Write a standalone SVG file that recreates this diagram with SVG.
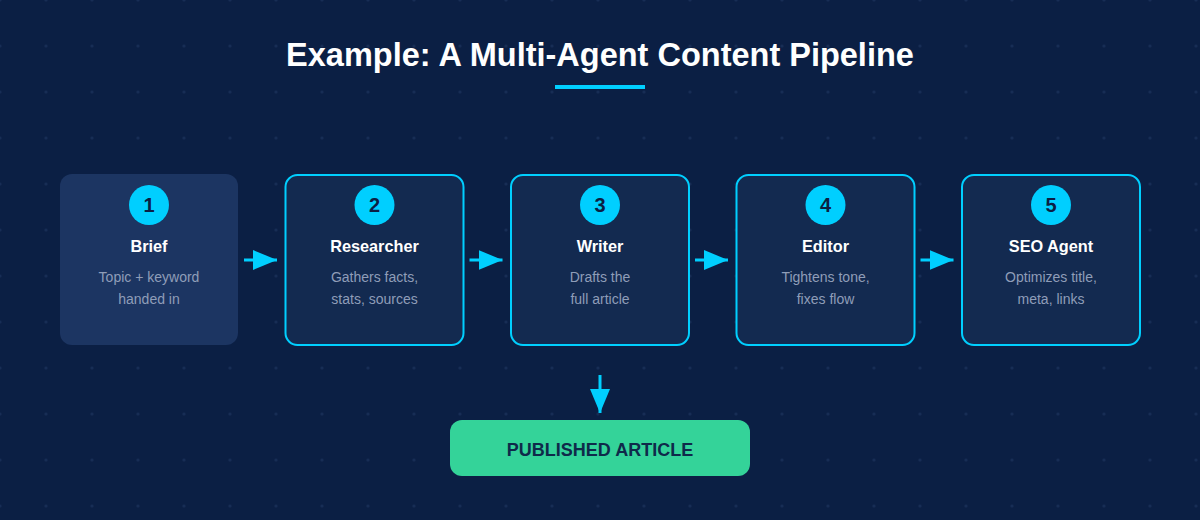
<svg xmlns="http://www.w3.org/2000/svg" width="1200" height="520" viewBox="0 0 1200 520">
<defs>
<pattern id="dots" x="0" y="0" width="46" height="46" patternUnits="userSpaceOnUse">
<circle cx="0" cy="0" r="1.6" fill="#172d55"/>
<circle cx="46" cy="0" r="1.6" fill="#172d55"/>
<circle cx="0" cy="46" r="1.6" fill="#172d55"/>
<circle cx="46" cy="46" r="1.6" fill="#172d55"/>
</pattern>
<marker id="arr" viewBox="0 0 24 20" refX="24" refY="10" markerWidth="24" markerHeight="20" markerUnits="userSpaceOnUse" orient="auto">
<path d="M0,0 L24,10 L0,20 Z" fill="#00cfff"/>
</marker>
<style>
.box{fill:#132a50;stroke:#00cfff;stroke-width:2}
.box1{fill:#1c3562}
.badge{fill:#00cfff}
.num{font-family:"Liberation Sans",Arial,sans-serif;font-weight:bold;font-size:20px;fill:#0b1f44;text-anchor:middle}
.name{font-family:"Liberation Sans",Arial,sans-serif;font-weight:bold;font-size:16.3px;fill:#ffffff;text-anchor:middle}
.desc{font-family:"Liberation Sans",Arial,sans-serif;font-size:14px;fill:#8f9db8;text-anchor:middle}
.conn{stroke:#00cfff;stroke-width:3;fill:none}
</style>
</defs>
<rect width="1200" height="520" fill="#0b1f44"/>
<rect width="1200" height="520" fill="url(#dots)"/>
<g id="title">
<text x="600" y="66" font-family="Liberation Sans, Arial, sans-serif" font-weight="bold" font-size="32.5" fill="#ffffff" text-anchor="middle">Example: A Multi-Agent Content Pipeline</text>
<rect x="555" y="85" width="90" height="4" fill="#00cfff"/>
</g>
<g id="node1">
<rect class="box1" x="60" y="174" width="178" height="171" rx="12"/>
<circle class="badge" cx="149" cy="205" r="20"/>
<text class="num" x="149" y="212">1</text>
<text class="name" x="149" y="252">Brief</text>
<text class="desc" x="149" y="282">Topic + keyword</text>
<text class="desc" x="149" y="304">handed in</text>
</g>
<g id="node2">
<rect class="box" x="285.5" y="175" width="178" height="170" rx="12"/>
<circle class="badge" cx="374.5" cy="205" r="20"/>
<text class="num" x="374.5" y="212">2</text>
<text class="name" x="374.5" y="252">Researcher</text>
<text class="desc" x="374.5" y="282">Gathers facts,</text>
<text class="desc" x="374.5" y="304">stats, sources</text>
</g>
<g id="node3">
<rect class="box" x="511" y="175" width="178" height="170" rx="12"/>
<circle class="badge" cx="600" cy="205" r="20"/>
<text class="num" x="600" y="212">3</text>
<text class="name" x="600" y="252">Writer</text>
<text class="desc" x="600" y="282">Drafts the</text>
<text class="desc" x="600" y="304">full article</text>
</g>
<g id="node4">
<rect class="box" x="736.5" y="175" width="178" height="170" rx="12"/>
<circle class="badge" cx="825.5" cy="205" r="20"/>
<text class="num" x="825.5" y="212">4</text>
<text class="name" x="825.5" y="252">Editor</text>
<text class="desc" x="825.5" y="282">Tightens tone,</text>
<text class="desc" x="825.5" y="304">fixes flow</text>
</g>
<g id="node5">
<rect class="box" x="962" y="175" width="178" height="170" rx="12"/>
<circle class="badge" cx="1051" cy="205" r="20"/>
<text class="num" x="1051" y="212">5</text>
<text class="name" x="1051" y="252">SEO Agent</text>
<text class="desc" x="1051" y="282">Optimizes title,</text>
<text class="desc" x="1051" y="304">meta, links</text>
</g>
<g id="output">
<rect x="450" y="420" width="300" height="56" rx="12" fill="#34d399"/>
<text x="600" y="456" font-family="Liberation Sans, Arial, sans-serif" font-weight="bold" font-size="18" fill="#0f2a4a" text-anchor="middle">PUBLISHED ARTICLE</text>
</g>
<g id="connectors">
<line class="conn" x1="244" y1="260" x2="277" y2="260" marker-end="url(#arr)"/>
<line class="conn" x1="469.5" y1="260" x2="502.5" y2="260" marker-end="url(#arr)"/>
<line class="conn" x1="695" y1="260" x2="728" y2="260" marker-end="url(#arr)"/>
<line class="conn" x1="920.5" y1="260" x2="953.5" y2="260" marker-end="url(#arr)"/>
<line class="conn" x1="600" y1="375" x2="600" y2="413" marker-end="url(#arr)"/>
</g>
</svg>
